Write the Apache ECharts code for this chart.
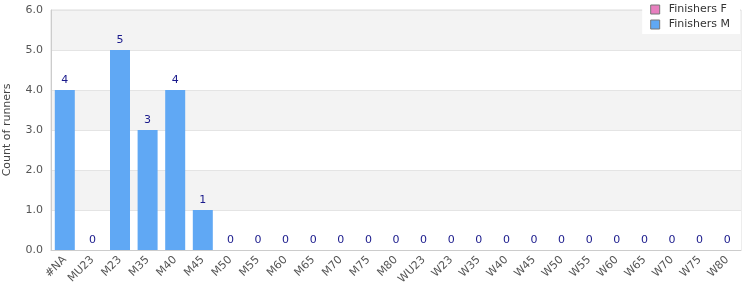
<!DOCTYPE html>
<html><head><meta charset="utf-8">
<script src="https://cdn.jsdelivr.net/npm/echarts@6/dist/echarts.min.js"></script>
<style>html,body{margin:0;padding:0;background:#fff}#c{width:750px;height:300px}</style>
</head><body><div id="c"></div>
<script>
const categories = ['#NA','MU23','M23','M35','M40','M45','M50','M55','M60','M65','M70','M75','M80','WU23','W23','W35','W40','W45','W50','W55','W60','W65','W70','W75','W80'];
const finishersF = [0,0,0,0,0,0,0,0,0,0,0,0,0,0,0,0,0,0,0,0,0,0,0,0,0];
const finishersM = [4,0,5,3,4,1,0,0,0,0,0,0,0,0,0,0,0,0,0,0,0,0,0,0,0];
const yTicks = {min:0, max:6, interval:1};
const font = 'DejaVu Sans';
const chart = echarts.init(document.getElementById('c'));
chart.setOption({
  animation:false,
  textStyle:{fontFamily:font},
  grid:{left:51,right:9,top:10,bottom:50,show:true,borderColor:'#dcdcdc',borderWidth:1,outerBoundsMode:'none',containLabel:false},
  legend:{orient:'vertical',top:0,right:10,backgroundColor:'#fff',padding:[4,10,4,8],itemGap:4,itemWidth:9,itemHeight:9,icon:'rect',
    textStyle:{fontFamily:font,fontSize:11,color:'#333',padding:[0,0,0,4]},
    data:[{name:'Finishers F',itemStyle:{borderColor:'#777',borderWidth:1}},{name:'Finishers M',itemStyle:{borderColor:'#777',borderWidth:1}}]},
  xAxis:{type:'category',data:categories,
    axisLine:{lineStyle:{color:'#ccc'}},axisTick:{show:false},
    axisLabel:{rotate:45,interval:0,fontFamily:font,fontSize:11,color:'#555',margin:8}},
  yAxis:{type:'value',min:yTicks.min,max:yTicks.max,interval:yTicks.interval,
    name:'Count of runners',nameLocation:'middle',nameGap:38,nameTextStyle:{fontFamily:font,fontSize:11,color:'#444'},
    axisLine:{show:true,lineStyle:{color:'#ccc'}},axisTick:{show:false},
    axisLabel:{formatter:v=>v.toFixed(1),fontFamily:font,fontSize:11,color:'#555'},
    splitLine:{lineStyle:{color:'#e4e4e4'}},
    splitArea:{show:true,areaStyle:{color:['#ffffff','#f3f3f3']}}},
  series:[
    {name:'Finishers F',type:'bar',stack:'a',data:finishersF,barWidth:20,itemStyle:{color:'#e87fbf'}},
    {name:'Finishers M',type:'bar',stack:'a',data:finishersM,barWidth:20,itemStyle:{color:'#60a8f4'},
      label:{show:true,position:'top',color:'#1a1a8c',fontFamily:font,fontSize:11,distance:4}}
  ]
});
</script></body></html>
